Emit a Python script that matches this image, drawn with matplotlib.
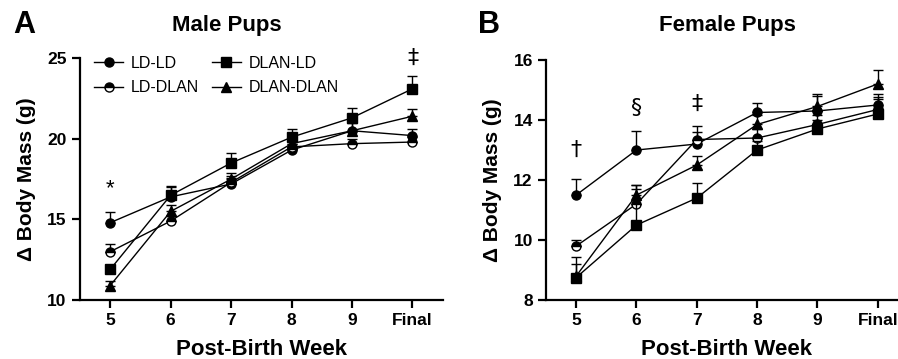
import matplotlib.pyplot as plt
import numpy as np

plt.rcParams['font.family'] = ['Liberation Sans', 'DejaVu Sans']

weeks = ["5", "6", "7", "8", "9", "Final"]
series = ["LD-LD", "LD-DLAN", "DLAN-LD", "DLAN-DLAN"]

# male pups: mean and upper error
male_ld_ld = [14.8, 16.4, 17.2, 19.3, 20.5, 20.2]
male_ld_ld_err = [0.65, 0.6, 0.4, 0.4, 0.5, 0.4]
male_ld_dlan = [13.0, 14.9, 17.3, 19.5, 19.7, 19.8]
male_ld_dlan_err = [0.5, 0.3, 0.4, 0.4, 0.3, 0.3]
male_dlan_ld = [11.9, 16.5, 18.5, 20.1, 21.3, 23.1]
male_dlan_ld_err = [0.3, 0.6, 0.6, 0.5, 0.6, 0.8]
male_dlan_dlan = [10.9, 15.5, 17.5, 19.7, 20.5, 21.4]
male_dlan_dlan_err = [0.3, 0.4, 0.4, 0.5, 0.6, 0.45]

# female pups
fem_ld_ld = [11.5, 13.0, 13.2, 14.25, 14.3, 14.5]
fem_ld_ld_err = [0.55, 0.65, 0.4, 0.3, 0.55, 0.35]
fem_ld_dlan = [9.8, 11.2, 13.35, 13.4, 13.85, 14.35]
fem_ld_dlan_err = [0.2, 0.5, 0.45, 0.3, 0.3, 0.4]
fem_dlan_ld = [8.75, 10.5, 11.4, 13.0, 13.7, 14.2]
fem_dlan_ld_err = [0.45, 1.35, 0.5, 0.3, 0.3, 0.5]
fem_dlan_dlan = [8.8, 11.5, 12.5, 13.85, 14.45, 15.2]
fem_dlan_dlan_err = [0.65, 0.35, 0.3, 0.3, 0.35, 0.45]

male_marks = [("*", 0, 16.9), ("\u2021", 5, 25.0)]
fem_marks = [("\u2020", 0, 13.0), ("\u00a7", 1, 14.4), ("\u2021", 2, 14.55)]

styles = [
    dict(marker="o", markerfacecolor="black"),
    dict(marker="o", markerfacecolor="black", fillstyle="top",
         markerfacecoloralt="white"),
    dict(marker="s", markerfacecolor="black"),
    dict(marker="^", markerfacecolor="black"),
]

fig = plt.figure(figsize=(8.98, 3.59), dpi=100)
axA = fig.add_axes([0.089, 0.164, 0.404, 0.674])
axB = fig.add_axes([0.608, 0.164, 0.403, 0.669])

x = np.arange(len(weeks))


def draw(ax, data, errs, ylim, yticks):
    for i, (y, e) in enumerate(zip(data, errs)):
        ax.errorbar(x, y, yerr=[np.zeros(len(e)), e], fmt="none", ecolor="black",
                    capsize=3.5, capthick=1, elinewidth=1, clip_on=False)
        ax.plot(x, y, color="black", lw=1, ms=6.5, markeredgecolor="black",
                markeredgewidth=1, label=series[i], clip_on=False, **styles[i])
    ax.set_xlim(-0.5, 5.5)
    ax.set_ylim(*ylim)
    ax.set_yticks(yticks)
    ax.set_xticks(x)
    ax.set_xticklabels(weeks)
    for s in ["top", "right"]:
        ax.spines[s].set_visible(False)
    for s in ["left", "bottom"]:
        ax.spines[s].set_linewidth(1.6)
    ax.tick_params(width=1.6, length=6, labelsize=12.5)
    for lab in ax.get_xticklabels() + ax.get_yticklabels():
        lab.set_fontweight("bold")
    ax.set_xlabel("Post-Birth Week", fontsize=16, fontweight="bold", labelpad=8)
    ax.set_ylabel("\u0394 Body Mass (g)", fontsize=15, fontweight="bold", labelpad=8)


draw(axA, [male_ld_ld, male_ld_dlan, male_dlan_ld, male_dlan_dlan],
     [male_ld_ld_err, male_ld_dlan_err, male_dlan_ld_err, male_dlan_dlan_err],
     (10, 25), [10, 15, 20, 25])
draw(axB, [fem_ld_ld, fem_ld_dlan, fem_dlan_ld, fem_dlan_dlan],
     [fem_ld_ld_err, fem_ld_dlan_err, fem_dlan_ld_err, fem_dlan_dlan_err],
     (8, 16), [8, 10, 12, 14, 16])

for t, xi, yi in male_marks:
    axA.text(xi, yi, t, ha="center", va="center", fontsize=16, clip_on=False,
             family=["DejaVu Sans"] if t != "*" else None)
for t, xi, yi in fem_marks:
    axB.text(xi, yi, t, ha="center", va="center", fontsize=16, clip_on=False,
             family=["DejaVu Sans"])

axA.legend(ncol=2, loc="upper left", bbox_to_anchor=(0.0, 1.07), frameon=False,
           fontsize=11.5, handlelength=1.8, columnspacing=0.8, handletextpad=0.5,
           labelspacing=0.6)

fig.text(0.015, 0.93, "A", fontsize=22, fontweight="bold", va="center")
fig.text(0.253, 0.93, "Male Pups", fontsize=16, fontweight="bold", ha="center", va="center")
fig.text(0.532, 0.93, "B", fontsize=22, fontweight="bold", va="center")
fig.text(0.81, 0.93, "Female Pups", fontsize=16, fontweight="bold", ha="center", va="center")

fig.savefig("out.png", dpi=100)
